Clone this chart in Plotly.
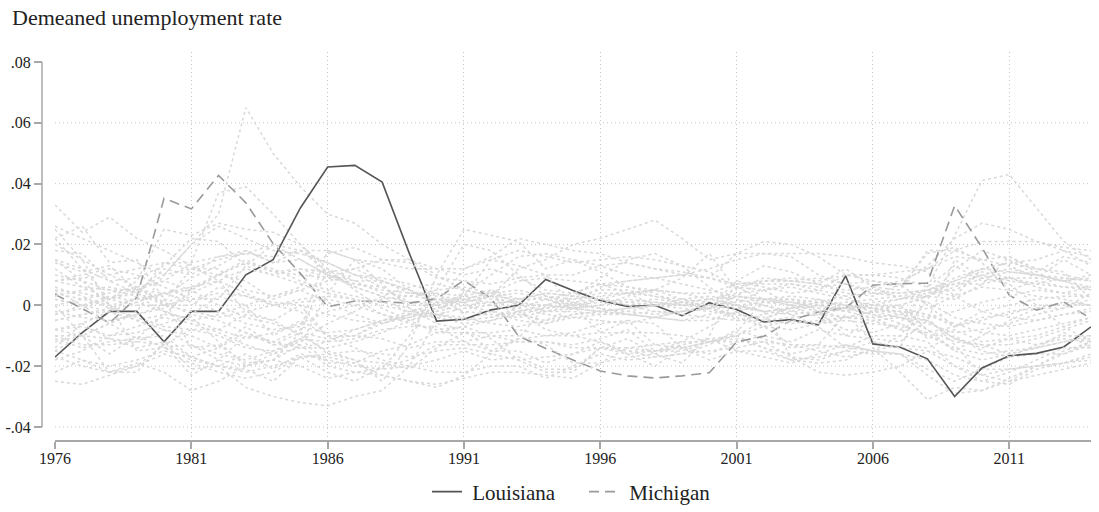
import plotly.graph_objects as go

years = list(range(1976, 2015))
tick_years = [1976, 1981, 1986, 1991, 1996, 2001, 2006, 2011]
y_tick_vals = [-0.04, -0.02, 0.0, 0.02, 0.04, 0.06, 0.08]
y_tick_text = ["-.04", "-.02", "0", ".02", ".04", ".06", ".08"]

louisiana = [-0.017, -0.009, -0.002, -0.002, -0.012, -0.002, -0.002, 0.010, 0.015, 0.032,
             0.0455, 0.046, 0.0405, 0.017, -0.0052, -0.0046, -0.0015, 0.0, 0.0085, 0.0049,
             0.0016, -0.0004, 0.0, -0.0034, 0.0008, -0.0014, -0.0055, -0.0047, -0.0064, 0.0097,
             -0.0127, -0.0138, -0.0176, -0.030, -0.0206, -0.0166, -0.0158, -0.0137, -0.0071]
michigan = [0.0036, -0.001, -0.0058, 0.0025, 0.0352, 0.0317, 0.0427, 0.0337, 0.0203, 0.0105,
            -0.0005, 0.0014, 0.0012, 0.0007, 0.0022, 0.0082, 0.0022, -0.0101, -0.0142, -0.018,
            -0.0216, -0.0232, -0.0239, -0.0232, -0.0222, -0.012, -0.0102, -0.0049, -0.0022, -0.0008,
            0.0066, 0.0071, 0.0073, 0.0328, 0.019, 0.0033, -0.0016, 0.0011, -0.0044]

# Other states, values in thousandths (per mille), 1976..2014
other_01 = [2, 0, 2, 5, 10, 20, 30, 65, 50, 39, 30, 27, 20, 15, 12, 12, 15, 18, 16, 14,
            15, 16, 15, 13, 11, 6, 2, 0, -1, -1, 0, 0, -8, -15, -10, -5, -1, -1, 4]
other_02 = [33, 24, 29, 22, 18, 13, 8, 4, 0, 2, 3, 2, -3, -5, -2, 4, 10, 16, 17, 15,
            13, 10, 9, 7, 5, 3, 2, 2, 0, -1, -1, 0, 3, 6, 10, 8, 7, 6, 5]
other_03 = [26, 22, 18, 14, 10, 20, 26, 22, 18, 17, 14, 10, 8, 5, 2, 2, 4, 8, 9, 8,
            7, 8, 9, 10, 12, 15, 17, 16, 10, 7, 4, 4, 5, 8, 12, 11, 10, 9, 8]
other_04 = [5, 4, 2, 8, 25, 23, 27, 25, 24, 20, 12, 8, 4, 3, 5, 6, 4, 1, -2, -2,
            -3, -3, -2, -2, -1, 3, 8, 9, 8, 10, 10, 11, 12, 18, 15, 13, 9, 8, 10]
other_05 = [8, 6, 5, 5, 8, 14, 37, 39, 30, 20, 10, 6, 3, 1, 1, 1, 3, 2, 4, 3,
            5, 5, 3, 2, 1, 0, -2, -1, 1, 0, -1, -2, -3, -7, -5, -2, -1, 1, 0]
other_06 = [-10, -13, -13, -12, -13, -23, -18, -10, -12, -8, 18, 15, 12, 5, 0, 2, 1, 1, 3, 2,
            4, 4, 0, 0, 0, 1, 5, 7, 5, 3, -1, -3, -5, -11, -14, -11, -13, -11, -12]
other_07 = [-17, -20, -22, -19, -22, -28, -25, -20, -18, -9, 12, 5, -1, -5, -9, -7, -10, -12, -12, -14,
            -14, -15, -15, -15, -12, -11, -14, -16, -14, -13, -15, -16, -21, -25, -21, -21, -20, -19, -17]
other_08 = [0, -10, -16, -10, -14, -18, -20, -27, -30, -32, -33, -30, -28, -20, -5, 5, 3, -2, -8, -10,
            -12, -15, -17, -16, -13, -8, -11, -14, -13, -14, -10, -10, -12, -20, -23, -21, -20, -19, -18]
other_09 = [25, 15, 0, -15, -14, -13, -18, -20, -18, -20, -24, -22, -21, -10, 5, 20, 18, 10, 3, 0,
            -9, -9, -9, -10, -12, -10, -5, 0, 2, -1, -3, -4, -5, -11, -13, -16, -14, -9, -14]
other_10 = [-25, -26, -23, -20, -16, -19, -22, -24, -22, -17, -17, -19, -23, -25, -26, -24, -22, -22, -23, -24,
            -19, -17, -16, -13, -11, -15, -17, -19, -16, -13, -15, -16, -23, -29, -28, -25, -23, -21, -19]
other_11 = [-15, -18, -20, -18, -15, -17, -20, -22, -20, -17, -16, -15, -16, -17, -15, -14, -16, -18, -17, -16,
            -14, -14, -15, -13, -11, -10, -14, -18, -19, -18, -14, -22, -31, -27, -28, -24, -20, -16, -12]
other_12 = [15, 8, 0, -5, -3, 5, 10, 8, 2, 5, 1, -3, -6, -3, -3, -5, -2, -3, -5, -1,
            -2, -3, -4, -2, -1, 6, 5, 0, -4, -8, -9, -6, 6, 23, 41, 43, 32, 21, 15]
other_13 = [12, 6, 2, 0, 0, 0, 6, 3, 0, -2, -10, -10, -5, -3, -4, -6, -5, -2, -6, -3,
            -2, -3, -4, -5, -5, -2, 0, -3, -7, -14, -15, -10, 2, 12, 18, 15, 10, 8, 5]
other_14 = [14, 11, 13, 5, 4, 5, 10, 14, 11, 10, 9, 7, 6, 1, 0, 12, 16, 22, 20, 18,
            17, 14, 12, 10, 9, 6, 8, 8, 7, 4, 3, 7, 13, 22, 27, 25, 21, 18, 13]
other_15 = [8, 10, 12, 10, 6, 2, 2, 13, 10, 12, 9, 12, 15, 15, 10, 5, 3, 12, 15, 20,
            22, 25, 28, 22, 15, 17, 17, 17, 17, 16, 14, 13, 11, 3, 12, 14, 15, 18, 16]
other_16 = [20, 15, 10, 6, 0, 6, 8, -2, -5, -10, -15, -18, -25, -13, 10, 25, 23, 21, 12, 15,
            11, 6, 4, 0, 1, -5, -5, -4, -3, -1, 6, 5, 18, 18, 21, 21, 21, 19, 18]
other_17 = [4, 2, 0, 2, 3, 9, 13, 18, 14, 18, 18, 15, 14, 12, 12, 10, 12, 9, 5, 4,
            7, 6, 5, 9, 17, 5, 9, 8, 7, 12, 6, 2, 3, 2, 7, 16, 11, 16, 14]
other_18 = [-5, -3, -2, 3, 14, 14, 16, 18, 14, 15, 10, 8, 8, 5, 1, 3, 5, 0, 0, -1,
            2, 0, 1, 0, 0, 3, 1, 0, -2, -10, -11, -12, -5, 15, 9, 7, 0, 0, 0]
other_19 = [-22, -18, -22, -20, -13, -8, -8, -3, -5, 0, -10, -14, -18, -20, -22, -22, -20, -20, -24, -20,
            -16, -18, -17, -16, -15, -14, -12, -17, -18, -15, -12, -14, -15, -17, -21, -17, -16, -16, -13]
other_20 = [-11, -14, -12, -11, -10, -17, -20, -21, -25, -17, -22, -25, -20, -18, -13, -13, -13, -12, -12, -13,
            -11, -8, -15, -14, -18, -15, -15, -18, -17, -15, -16, -16, -18, -23, -25, -26, -21, -19, -16]
other_21 = [2, 0, -2, -5, -8, -13, -16, -18, -15, -11, -12, -11, -8, -7, -7, -12, -15, -11, -10, -10,
            -9, -5, -6, -14, -12, -10, -7, -13, -13, -3, -12, -14, 4, 5, 9, 11, 10, 8, 9]
other_22 = [-8, -10, -6, -2, 10, 12, 10, 15, 11, 12, 11, 6, 3, -3, 2, 1, -4, -1, 2, -1,
            0, 3, 5, 2, -1, 8, 6, 4, 5, 10, 10, 9, 6, 13, 8, 9, 7, 9, 8]
other_23 = [22, 12, 2, 6, 1, 12, 12, 5, 3, 6, 17, 19, 15, 14, 9, 8, 7, 9, 10, 10,
            13, 14, 12, 11, 9, 7, 8, 8, 9, 7, 8, 7, 0, -7, -2, 0, 2, 3, 3]
other_24 = [5, 0, -6, -11, -3, -4, -12, -20, -16, -11, -19, -19, -15, -13, -9, -9, -9, -8, -10, -9,
            -6, -5, -13, -14, -12, -12, -12, -13, -15, -17, -15, -13, -14, -10, -15, -17, -13, -10, -10]
other_25 = [-10, -10, -22, -22, -12, -21, -20, -16, -21, -16, -18, -20, -21, -20, -18, -15, -18, -17, -21, -21,
            -14, -16, -20, -14, -16, -12, -10, -12, -8, -10, -5, -8, -4, -13, -23, -25, -20, -15, -12]
other_26 = [-8, -7, -10, -9, -6, -3, 3, 0, -10, -5, -10, -10, -11, -14, -12, -12, -10, -10, -13, -19,
            -19, -14, -13, -12, -7, -2, -7, -5, -6, -4, -2, -2, -11, -8, -12, -11, -10, -7, -4]
other_27 = [-3, -1, 2, 4, 12, 10, 16, 17, 16, 18, 11, 12, 8, 4, 4, -3, 5, 2, 2, 4,
            7, 4, 5, 4, 4, 7, 7, 7, 6, 7, 5, 4, 5, 7, 7, 9, 9, 15, 10]
other_28 = [18, 17, 8, 9, 13, 22, 21, 13, 20, 18, 14, 10, 6, 0, 0, 3, 15, 13, 10, 0,
            6, 8, 9, 10, 9, 17, 21, 20, 16, 10, 8, 6, 17, 19, 14, 5, 8, 6, 6]
other_29 = [-14, -6, -11, -14, -12, -17, -14, -7, -13, -13, 4, 15, 7, -1, -6, -8, -15, -15, -19, -16,
            -12, -16, -15, -12, -12, -9, 2, 2, -2, -4, -4, -8, -9, -7, -4, -3, 0, -7, -12]
other_30 = [22, 26, 14, 15, 2, -14, -13, -19, -18, -13, -20, -22, -23, -25, -27, -23, -16, -11, 0, 3,
            9, 15, 17, 13, 6, 0, -2, -17, -22, -23, -22, -20, -15, -20, -25, -22, -18, -14, -14]
other_31 = [-15, -10, -11, -12, -8, -10, -14, -9, -13, -9, -16, -18, -19, -21, -14, -9, -11, -18, -22, -22,
            -14, -11, -16, -19, -10, 8, 13, 11, 7, 5, 6, 8, 12, 16, 15, 16, 12, 11, 2]
other_32 = [-5, -3, -1, 2, 4, 1, -2, -6, -8, -7, -9, -8, -5, -2, 0, -2, -3, -4, -2, 0,
            2, 1, 0, -1, -2, -3, -4, -2, 0, 1, 2, 3, 5, 3, -2, -4, -5, -3, -1]
other_33 = [3, 5, 6, 4, 1, -3, -5, -9, -12, -14, -14, -12, -9, -5, -3, -1, 0, 2, 4, 3,
            2, 0, -2, -3, -4, -5, -3, -1, 0, -2, -4, -3, -1, 3, 6, 5, 3, 2, 0]
other_34 = [-12, -10, -6, -3, 0, 2, 4, 3, 1, 0, -3, -5, -6, -4, -1, 1, 3, 4, 2, 0,
            -1, -2, -3, -2, 0, 1, 2, 3, 2, 0, -2, -4, -6, -9, -8, -6, -3, -1, 2]
other_35 = [10, 8, 5, 3, -2, -5, -8, -11, -9, -6, -2, 0, 2, 3, 2, 0, -2, -5, -6, -4,
            -3, -2, 0, 1, 2, 3, 2, 1, -1, -2, 0, 2, 4, 7, 10, 12, 10, 8, 6]
other_36 = [-2, -4, -5, -3, -1, 4, 8, 12, 10, 7, 4, 2, 0, -2, -3, -4, -6, -7, -5, -3,
            -2, -1, 0, 2, 3, 2, 0, -2, -3, -4, -5, -4, -8, -12, -13, -13, -11, -8, -5]
other_37 = [6, 3, -1, -4, -7, -8, -10, -14, -15, -12, -6, -2, 3, 6, 7, 5, 3, 0, -2, -1,
            0, 1, 2, 1, 0, -1, -2, -1, 1, 3, 4, 3, 1, -4, -6, -7, -5, -3, -2]
other_38 = [-8, -6, -2, 1, 4, 6, 10, 14, 12, 8, 5, 3, 1, -1, -3, -5, -4, -2, 0, 2,
            3, 4, 3, 1, -1, -3, -5, -6, -5, -4, -2, 0, 3, 8, 11, 9, 6, 4, 3]
other_39 = [0, 2, 4, 6, 8, 5, 0, -4, -6, -9, -11, -10, -6, -3, -1, 2, 4, 5, 3, 1,
            -1, -3, -4, -5, -3, -1, 1, 2, 1, 0, -1, -2, -4, -2, 1, 3, 5, 4, 6]
other_40 = [15, 12, 8, 4, 0, -2, -4, -2, 0, 1, 2, 0, -3, -6, -8, -7, -5, -3, -1, 0,
            1, 2, 1, 0, -1, 0, 1, 1, 0, -1, -3, -6, -10, -14, -16, -15, -14, -12, -11]
other_41 = [-18, -15, -10, -7, -4, -6, -9, -13, -16, -14, -12, -8, -5, -4, -2, 0, 1, -1, -3, -4,
            -5, -6, -4, -2, -1, -4, -7, -8, -6, -5, -6, -7, -9, -15, -18, -16, -14, -12, -10]
other_42 = [8, 9, 10, 12, 14, 12, 15, 17, 20, 15, 10, 7, 5, 4, 3, 2, 0, -2, -1, 1,
            2, 4, 5, 4, 2, 0, -2, -3, -2, -1, 1, 2, 5, 9, 12, 14, 12, 10, 8]
other_43 = [-3, 0, 3, 1, -2, -5, -3, 0, 3, 5, 8, 10, 9, 7, 4, 3, 2, 1, 0, -1,
            -2, -1, 0, 1, 2, 4, 5, 6, 4, 2, 0, -1, -3, -6, -9, -10, -8, -6, -4]

others_a = [other_01, other_02, other_03, other_04, other_05, other_06, other_07, other_08,
            other_09, other_10, other_11, other_12, other_13, other_14, other_15, other_16,
            other_17, other_18, other_19, other_20]
others_b = [other_21, other_22, other_23, other_24, other_25]
others_c = [other_26, other_27, other_28, other_29, other_30, other_31, other_32, other_33,
            other_34, other_35, other_36, other_37, other_38, other_39, other_40, other_41,
            other_42, other_43]

FONT = "Liberation Serif"
TEXT = "#222222"
AXIS = "#a8a8a8"
GRID = "#c4c4c4"
BG_LINE = dict(color="#d9d9d9", width=1.5, dash="3px,3px")

fig = go.Figure()


def add_bg(series_list):
    for s in series_list:
        fig.add_trace(go.Scatter(x=years, y=[v / 1000 for v in s], mode="lines",
                                 line=BG_LINE, showlegend=False, hoverinfo="skip"))


add_bg(others_a)
fig.add_trace(go.Scatter(x=years, y=louisiana, mode="lines", name="\u00a0Louisiana",
                         line=dict(color="#555555", width=1.6)))
add_bg(others_b)
fig.add_trace(go.Scatter(x=years, y=michigan, mode="lines", name="\u00a0Michigan",
                         line=dict(color="#999999", width=1.6, dash="10px,6px")))
add_bg(others_c)

# horizontal dotted grid (none at the top tick)
for v in y_tick_vals[:-1]:
    fig.add_shape(type="line", xref="x", yref="y", x0=1976, x1=2014, y0=v, y1=v,
                  line=dict(color=GRID, width=1, dash="1px,3px"), layer="below")
# y axis line spanning only the tick range
fig.add_shape(type="line", xref="paper", yref="y", x0=0, x1=0,
              y0=min(y_tick_vals), y1=max(y_tick_vals),
              line=dict(color=AXIS, width=1.5))

FIG_W, FIG_H = 1099, 512
M_L, M_R, M_T, M_B = 42, 8, 52, 72
plot_w = FIG_W - M_L - M_R
plot_h = FIG_H - M_T - M_B
fig.update_layout(
    template="none",
    width=FIG_W, height=FIG_H,
    margin=dict(l=M_L, r=M_R, t=M_T, b=M_B, autoexpand=False),
    plot_bgcolor="white", paper_bgcolor="white",
    font=dict(family=FONT, color=TEXT, size=16),
    title=dict(text="Demeaned unemployment rate", x=12 / FIG_W, xanchor="left",
               xref="container", y=1 - 17 / FIG_H, yanchor="middle", yref="container",
               font=dict(family=FONT, size=22, color=TEXT)),
    xaxis=dict(range=[1976, 2014], domain=[13 / plot_w, 1], tickvals=tick_years,
               ticks="outside", ticklen=7, tickwidth=1.5, tickcolor=AXIS,
               ticklabelstandoff=-4,
               showline=True, linecolor=AXIS, linewidth=1.5, automargin=False,
               showgrid=True, gridcolor=GRID, gridwidth=1, griddash="1px,3px",
               zeroline=False, tickfont=dict(size=16, family=FONT, color=TEXT)),
    yaxis=dict(range=[-0.0443, 0.0833], anchor="free", position=0, automargin=False,
               tickvals=y_tick_vals, ticktext=y_tick_text,
               ticks="outside", ticklen=8, tickwidth=1.5, tickcolor=AXIS,
               showline=False, showgrid=False, zeroline=False,
               tickfont=dict(size=16, family=FONT, color=TEXT)),
    legend=dict(orientation="h", x=(584 - M_L) / plot_w, xanchor="center",
                y=(FIG_H - M_B - 492) / plot_h,
                yanchor="middle", font=dict(size=21, family=FONT, color=TEXT),
                bgcolor="rgba(0,0,0,0)", entrywidth=112),
)

# remove the default 8px page margin so the figure fills the window exactly
fig.write_html("out.html",
               config={"displayModeBar": False},
               post_script="document.body.style.margin='0';document.body.style.overflow='hidden';")
